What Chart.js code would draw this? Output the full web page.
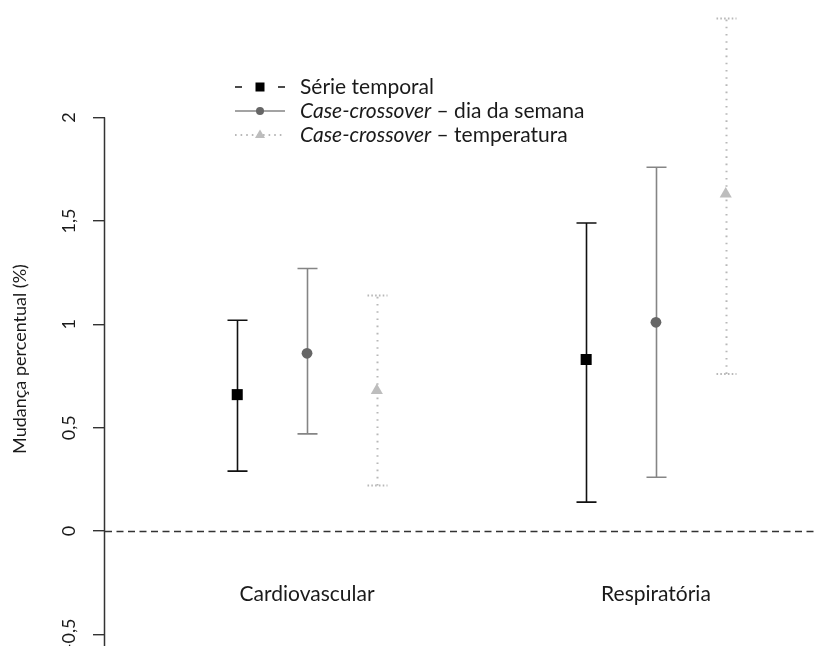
<!DOCTYPE html>
<html>
<head>
<meta charset="utf-8">
<script src="https://cdn.jsdelivr.net/npm/chart.js@4/dist/chart.umd.min.js"></script>
<style>
  html, body { margin: 0; padding: 0; background: #ffffff; }
  #wrap { width: 814px; height: 646px; }
</style>
</head>
<body>
<div id="wrap"><canvas id="c" width="814" height="646"></canvas></div>
<script>
// ---- data ----
const categories = ['Cardiovascular', 'Respiratória'];
const yTicks = [-0.5, 0, 0.5, 1, 1.5, 2];
const yTickLabels = ['-0,5', '0', '0,5', '1', '1,5', '2'];
const yTitle = 'Mudança percentual (%)';

const legendItalic = ['', 'Case-crossover', 'Case-crossover'];
const legendRest = ['Série temporal', ' – dia da semana', ' – temperatura'];

const serieTemporalEst = [0.66, 0.83];
const serieTemporalLow = [0.29, 0.14];
const serieTemporalHigh = [1.02, 1.49];

const diaSemanaEst = [0.86, 1.01];
const diaSemanaLow = [0.47, 0.26];
const diaSemanaHigh = [1.27, 1.76];

const temperaturaEst = [0.68, 1.63];
const temperaturaLow = [0.22, 0.76];
const temperaturaHigh = [1.14, 2.48];

// ---- layout / style ----
const groupOffsets = [-0.2, 0, 0.2];
const FONT = 'Lato, "Open Sans", sans-serif';
const TEXT = '#1a1a1a';
const styles = [
  { color: '#111111', width: 1.6, dash: [], capDash: [], point: 'rect', radius: 7.8, fill: '#000000' },
  { color: '#858585', width: 1.6, dash: [], capDash: [], point: 'circle', radius: 5.4, fill: '#666666' },
  { color: '#b8b8b8', width: 2, dash: [1.6, 5.6], capDash: [1.6, 2.2], point: 'triangle', radius: 7, fill: '#bdbdbd' }
];
const lows = [serieTemporalLow, diaSemanaLow, temperaturaLow];
const highs = [serieTemporalHigh, diaSemanaHigh, temperaturaHigh];
const ests = [serieTemporalEst, diaSemanaEst, temperaturaEst];

function makeData(k) {
  return ests[k].map((v, i) => ({ x: i + 1 + groupOffsets[k], y: v }));
}

const whiskers = {
  id: 'whiskers',
  beforeDatasetsDraw(chart) {
    const ctx = chart.ctx, ys = chart.scales.y, area = chart.chartArea;
    ctx.save();
    // zero reference line
    ctx.strokeStyle = '#333333';
    ctx.lineWidth = 1.4;
    ctx.setLineDash([7, 4.5]);
    const y0 = Math.round(ys.getPixelForValue(0)) + 0.5;
    ctx.beginPath(); ctx.moveTo(area.left, y0); ctx.lineTo(area.right, y0); ctx.stroke();
    // error bars
    for (let k = 0; k < 3; k++) {
      const meta = chart.getDatasetMeta(k), st = styles[k];
      meta.data.forEach((pt, j) => {
        const x = Math.round(pt.x) + 0.5;
        const yl = ys.getPixelForValue(lows[k][j]);
        const yh = ys.getPixelForValue(highs[k][j]);
        ctx.strokeStyle = st.color;
        ctx.lineWidth = st.width;
        ctx.setLineDash(st.dash);
        ctx.beginPath(); ctx.moveTo(x, yl); ctx.lineTo(x, yh); ctx.stroke();
        ctx.setLineDash(st.capDash);
        ctx.beginPath();
        ctx.moveTo(x - 10, yl); ctx.lineTo(x + 10, yl);
        ctx.moveTo(x - 10, yh); ctx.lineTo(x + 10, yh);
        ctx.stroke();
      });
    }
    ctx.restore();
  },
  afterDraw(chart) {
    const ctx = chart.ctx, ys = chart.scales.y, xs = chart.scales.x, area = chart.chartArea;
    ctx.save();
    // y axis line (from top tick down)
    ctx.strokeStyle = '#333333';
    ctx.lineWidth = 1.5;
    ctx.beginPath();
    ctx.moveTo(area.left - 0.5, ys.getPixelForValue(yTicks[yTicks.length - 1]));
    ctx.lineTo(area.left - 0.5, area.bottom);
    ctx.stroke();
    // tick labels (rotated)
    ctx.fillStyle = TEXT;
    ctx.font = '18px ' + FONT;
    ctx.textAlign = 'center';
    ctx.textBaseline = 'middle';
    yTicks.forEach((v, i) => {
      const y = ys.getPixelForValue(v);
      ctx.save();
      ctx.translate(69, y);
      ctx.rotate(-Math.PI / 2);
      ctx.fillText(yTickLabels[i], 0, 0);
      ctx.restore();
    });
    // y title
    ctx.save();
    ctx.translate(20, 359);
    ctx.rotate(-Math.PI / 2);
    ctx.fillText(yTitle, 0, 0);
    ctx.restore();
    // category labels
    ctx.font = '21px ' + FONT;
    categories.forEach((c, i) => {
      ctx.fillText(c, xs.getPixelForValue(i + 1), 594);
    });
    // legend
    const rows = [87, 111, 135];
    const sx = 260;
    rows.forEach((ry, k) => {
      const st = styles[k];
      ctx.strokeStyle = st.color;
      ctx.fillStyle = st.fill;
      ctx.lineWidth = k === 2 ? 2 : 1.4;
      if (k === 0) {
        ctx.setLineDash([]);
        ctx.beginPath();
        ctx.moveTo(235, ry); ctx.lineTo(242, ry);
        ctx.moveTo(278, ry); ctx.lineTo(285, ry);
        ctx.stroke();
        ctx.fillRect(sx - 4.5, ry - 4.5, 9, 9);
      } else if (k === 1) {
        ctx.setLineDash([]);
        ctx.beginPath(); ctx.moveTo(235, ry); ctx.lineTo(285, ry); ctx.stroke();
        ctx.beginPath(); ctx.arc(sx, ry, 4, 0, Math.PI * 2); ctx.fill();
      } else {
        ctx.setLineDash([1.6, 4]);
        ctx.beginPath(); ctx.moveTo(235, ry); ctx.lineTo(285, ry); ctx.stroke();
        ctx.setLineDash([]);
        ctx.beginPath();
        ctx.moveTo(sx, ry - 5.5); ctx.lineTo(sx + 5, ry + 3); ctx.lineTo(sx - 5, ry + 3);
        ctx.closePath(); ctx.fill();
      }
      ctx.fillStyle = TEXT;
      ctx.textAlign = 'left';
      let tx = 300;
      if (legendItalic[k]) {
        ctx.font = 'italic 21px ' + FONT;
        ctx.fillText(legendItalic[k], tx, ry);
        tx += ctx.measureText(legendItalic[k]).width;
      }
      ctx.font = '21px ' + FONT;
      ctx.fillText(legendRest[k], tx, ry);
    });
    ctx.restore();
  }
};

new Chart(document.getElementById('c'), {
  type: 'scatter',
  data: {
    datasets: [0, 1, 2].map(k => ({
      label: legendItalic[k] + legendRest[k],
      data: makeData(k),
      pointStyle: styles[k].point,
      pointRadius: styles[k].radius,
      pointHoverRadius: styles[k].radius,
      backgroundColor: styles[k].fill,
      borderColor: styles[k].fill,
      borderWidth: 0,
      showLine: false,
      clip: false
    }))
  },
  options: {
    responsive: false,
    animation: false,
    devicePixelRatio: 1,
    layout: { padding: 0, autoPadding: false },
    plugins: { legend: { display: false }, tooltip: { enabled: false } },
    scales: {
      x: { type: 'linear', display: false, min: 0.421, max: 2.453 },
      y: {
        type: 'linear',
        min: -0.556, max: 2.569,
        afterBuildTicks(scale) { scale.ticks = yTicks.map(v => ({ value: v })); },
        afterFit(scale) { scale.width = 105; },
        ticks: { display: false },
        border: { display: false },
        grid: { drawOnChartArea: false, drawTicks: true, tickLength: 12, color: '#333333', lineWidth: 1.4 }
      }
    }
  },
  plugins: [whiskers]
});
</script>
</body>
</html>
